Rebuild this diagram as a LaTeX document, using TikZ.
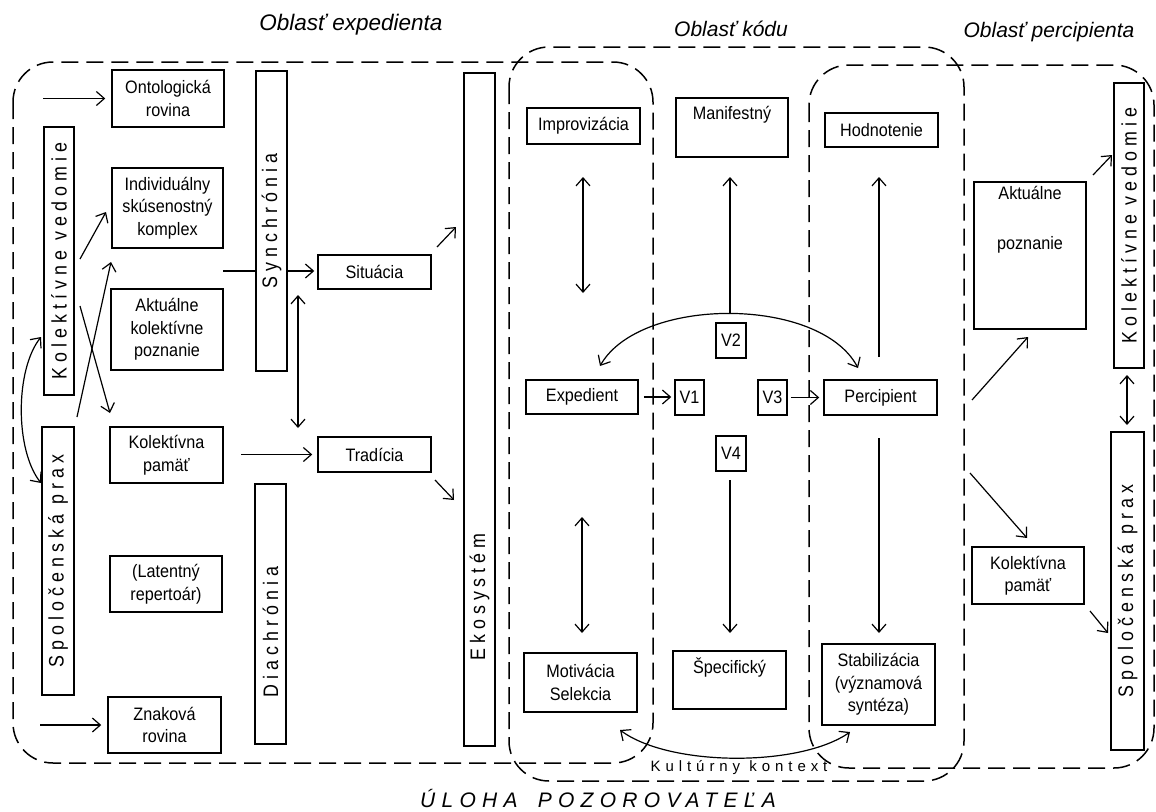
\documentclass[tikz,border=0pt]{standalone}
\usepackage{fontspec}
\usepackage{graphicx}
\usetikzlibrary{arrows.meta,calc}
\setmainfont{Liberation Sans}
\newfontfamily\boxfont{Liberation Sans}[FakeStretch=0.9]
\newfontfamily\vfont{Liberation Sans}[FakeStretch=0.85,LetterSpace=24]
\newfontfamily\kfont{Liberation Sans}[LetterSpace=33]
\newfontfamily\ufont{Liberation Sans}[LetterSpace=30]
\begin{document}
\begin{tikzpicture}[x=1pt,y=-1pt,
  box/.style={draw, line width=1.5pt, fill=white, inner sep=0pt, align=center,
    font=\boxfont\fontsize{18}{22.5}\selectfont},
  vbox/.style={draw, line width=1.5pt, fill=white, inner sep=0pt,
    font=\vfont\fontsize{21}{22}\selectfont},
  region/.style={draw, line width=1.5pt, dash pattern=on 17pt off 8pt, rounded corners=40pt},
  title/.style={font=\fontsize{21}{24}\selectfont\itshape},
  tip/.tip={Straight Barb[length=8pt,width=14pt]},
  arr/.style={line width=1.2pt, -tip},
  darr/.style={line width=1.2pt, tip-tip},
  plain/.style={line width=1.2pt}
]
\useasboundingbox (0,0) rectangle (1156,811);

% regions
\draw[region] (13,62) rectangle (653,763);
\draw[region] (509,47) rectangle (964,781);
\draw[region] (809,65) rectangle (1154,768);

% titles
\node[title, font=\fontsize{22.5}{24}\selectfont\itshape] (t1) at (351,25) {Oblasť expedienta};
\node[title] (t2) at (731,29) {Oblasť kódu};
\node[title] (t3) at (1049,32) {Oblasť percipienta};
\node[font=\kfont\fontsize{15}{18}\selectfont] (kk) at (739,768) {Kultúrny kontext};
\node[font=\ufont\itshape\fontsize{21}{24}\selectfont] (ul) at (598,798) {ÚLOHA\hspace{8pt} POZOROVATEĽA};

% left column
\node[box, minimum width=112pt, minimum height=57pt] (onto) at (168,98.5) {Ontologická\\rovina};
\node[box, minimum width=111pt, minimum height=80pt] (indiv) at (167.5,208) {Individuálny\\skúsenostný\\komplex};
\node[box, minimum width=112pt, minimum height=81pt] (aktual) at (167,329.5) {Aktuálne\\kolektívne\\poznanie};
\node[box, minimum width=113pt, minimum height=56pt] (pamat) at (166.5,455) {Kolektívna\\pamäť};
\node[box, minimum width=112pt, minimum height=56pt] (latent) at (166,584) {(Latentný\\repertoár)};
\node[box, minimum width=113pt, minimum height=56pt] (znak) at (164.5,725) {Znaková\\rovina};
\node[vbox, minimum width=30pt, minimum height=268pt] (vedL) at (59,261) {\rotatebox{90}{Kolektívne vedomie}};
\node[vbox, minimum width=32pt, minimum height=268pt] (praxL) at (58,561) {\rotatebox{90}{Spoločenská prax}};
\node[vbox, minimum width=31pt, minimum height=300pt] (sync) at (271.5,221) {\rotatebox{90}{Synchrónia}};
\node[vbox, minimum width=31pt, minimum height=260pt] (diach) at (270.5,614) {\rotatebox{90}{Diachrónia\hspace{36pt}}};
\node[box, minimum width=113pt, minimum height=34pt] (sit) at (374.5,272) {Situácia};
\node[box, minimum width=113pt, minimum height=35pt] (trad) at (374.5,454.5) {Tradícia};
\node[vbox, minimum width=31pt, minimum height=673pt] (eko) at (479.5,409.5) {\rotatebox{90}{Ekosystém\hspace{375pt}}};

% code area
\node[box, minimum width=113pt, minimum height=36pt] (improv) at (583.5,126) {Improvizácia};
\node[box, minimum width=112pt, minimum height=34pt] (exped) at (582,397) {Expedient};
\node[box, minimum width=113pt, minimum height=59pt] (motiv) at (580.5,682.5) {Motivácia\\Selekcia};
\node[box, minimum width=112pt, minimum height=59pt] (manif) at (732,127.5) {Manifestný\\[6pt]\mbox{}};
\node[box, minimum width=30pt, minimum height=35pt] (v2) at (731,340.5) {V2};
\node[box, minimum width=29pt, minimum height=35pt] (v1) at (689.5,397.5) {V1};
\node[box, minimum width=29pt, minimum height=35pt] (v3) at (772.5,397.5) {V3};
\node[box, minimum width=30pt, minimum height=35pt] (v4) at (731,453.5) {V4};
\node[box, minimum width=113pt, minimum height=58pt] (spec) at (729.5,680) {Špecifický\\[6pt]\mbox{}};
\node[box, minimum width=113pt, minimum height=34pt] (hodn) at (881.5,130) {Hodnotenie};
\node[box, minimum width=113pt, minimum height=35pt] (percip) at (880.5,397.5) {Percipient};
\node[box, minimum width=113pt, minimum height=81pt] (stab) at (878.5,684.5) {Stabilizácia\\(významová\\syntéza)};

% right area
\node[box, minimum width=112pt, minimum height=147pt] (aktR) at (1030,255.5) {Aktuálne\\[28pt]poznanie\\[53pt]\mbox{}};
\node[box, minimum width=112pt, minimum height=57pt] (pamatR) at (1028,575.5) {Kolektívna\\pamäť};
\node[vbox, minimum width=30pt, minimum height=285pt] (vedR) at (1129,225.5) {\rotatebox{90}{Kolektívne vedomie}};
\node[vbox, minimum width=33pt, minimum height=318pt] (praxR) at (1127.5,591) {\rotatebox{90}{Spoločenská prax}};

% connector end points
\coordinate (p1) at (43,98.5);
\coordinate (p2) at (40,725);
\coordinate (p3a) at (80,259);  \coordinate (p3b) at (106,212);
\coordinate (p4a) at (80,306);  \coordinate (p4b) at (110,413);
\coordinate (p5a) at (77,417);  \coordinate (p5b) at (111,262);
\coordinate (p6a) at (41,337);  \coordinate (p6b) at (41,483);
\coordinate (p7) at (223,271);
\coordinate (p8) at (241,454.5);
\coordinate (p9a) at (298,295); \coordinate (p9b) at (298,428);
\coordinate (p10a) at (437,247); \coordinate (p10b) at (456,227);
\coordinate (p11a) at (435,480); \coordinate (p11b) at (454,500);
\coordinate (p12a) at (583,177); \coordinate (p12b) at (583,293);
\coordinate (p13a) at (582,517); \coordinate (p13b) at (582,633);
\coordinate (p16a) at (600,366); \coordinate (p16b) at (858,368);
\coordinate (p17a) at (730,314); \coordinate (p17b) at (730,177);
\coordinate (p18a) at (730,480); \coordinate (p18b) at (730,633);
\coordinate (p19a) at (879,357); \coordinate (p19b) at (879,177);
\coordinate (p20a) at (879,438); \coordinate (p20b) at (879,633);
\coordinate (p21a) at (620,730); \coordinate (p21b) at (850,732);
\coordinate (p22a) at (1127,375); \coordinate (p22b) at (1127,425);
\coordinate (p23a) at (972,400); \coordinate (p23b) at (1028,337);
\coordinate (p24a) at (1093,175); \coordinate (p24b) at (1112,155);
\coordinate (p25a) at (970,473); \coordinate (p25b) at (1027,538);
\coordinate (p26a) at (1090,611); \coordinate (p26b) at (1108,633);

% connectors
\draw[arr, shorten >=6pt] (p1) -- (p1 -| onto.west);
\draw[arr, shorten >=6pt] (p2) -- (p2 -| znak.west);
\draw[arr] (p3a) -- (p3b);
\draw[arr] (p4a) -- (p4b);
\draw[arr] (p5a) -- (p5b);
\draw[darr] (p6a) .. controls (15,370) and (15,450) .. (p6b);
\draw[plain] (p7) -- (p7 -| sync.west);
\draw[arr, shorten >=3pt] (p7 -| sync.east) -- (p7 -| sit.west);
\draw[arr, shorten >=5pt] (p8) -- (p8 -| trad.west);
\draw[darr] (p9a) -- (p9b);
\draw[arr] (p10a) -- (p10b);
\draw[arr] (p11a) -- (p11b);
\draw[darr] (p12a) -- (p12b);
\draw[darr] (p13a) -- (p13b);
\draw[arr, shorten <=5pt, shorten >=3pt] (exped.east) -- (exped.east -| v1.west);
\draw[arr, shorten <=3pt, shorten >=4pt] (v3.east) -- (v3.east -| percip.west);
\draw[darr] (p16a) .. controls (640,296) and (820,296) .. (p16b);
\draw[arr] (p17a) -- (p17b);
\draw[arr] (p18a) -- (p18b);
\draw[arr] (p19a) -- (p19b);
\draw[arr] (p20a) -- (p20b);
\draw[darr] (p21a) .. controls (670,767) and (800,767) .. (p21b);
\draw[darr] (p22a) -- (p22b);
\draw[arr] (p23a) -- (p23b);
\draw[arr] (p24a) -- (p24b);
\draw[arr] (p25a) -- (p25b);
\draw[arr] (p26a) -- (p26b);
\end{tikzpicture}
\end{document}
